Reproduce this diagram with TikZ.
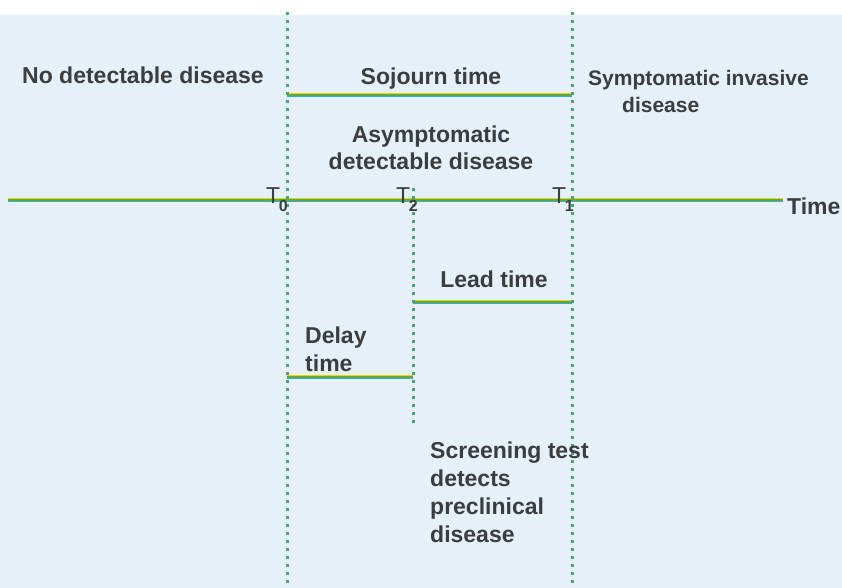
\documentclass[tikz,border=0pt]{standalone}
\usepackage{fontspec}
\setmainfont{Liberation Sans}
\usepackage{xcolor}
\usetikzlibrary{positioning}
\definecolor{bgblue}{RGB}{229,240,248}
\definecolor{inkgray}{RGB}{58,62,64}
\definecolor{tlgreen}{RGB}{96,168,58}
\definecolor{tlblue}{RGB}{58,168,220}
\definecolor{tlyellow}{RGB}{232,214,0}
\definecolor{dotgreen}{RGB}{70,165,120}
\newcommand{\tmark}[1]{T\kern-1.5pt\raisebox{-8pt}{\bfseries\fontsize{16}{16}\selectfont #1}}

\begin{document}
\begin{tikzpicture}[x=1pt, y=-1pt,
    txt/.style={font=\bfseries\fontsize{23}{28}\selectfont, text=inkgray, inner sep=0pt},
    tlabel/.style={font=\fontsize{23}{28}\selectfont, text=inkgray, inner sep=0pt, anchor=base west},
    period/.style={line width=1.7pt, draw=tlgreen,
        preaction={draw=tlblue, line width=1.6pt, transform canvas={yshift=-1.5pt}},
        postaction={draw=tlyellow, line width=1.2pt, transform canvas={yshift=1.4pt}}},
    dotline/.style={draw=dotgreen, line width=3pt, dash pattern=on 3pt off 5pt}
]
    \useasboundingbox (0,0) rectangle (842,588);
    \fill[white] (0,0) rectangle (842,588);
    \fill[bgblue] (0,15) rectangle (842,588);

    \coordinate (t0top) at (287,12);
    \coordinate (t0bot) at (287,588);
    \coordinate (t1top) at (572,12);
    \coordinate (t1bot) at (572,588);
    \coordinate (t2top) at (413,188);
    \coordinate (t2bot) at (413,425);
    \coordinate (origin) at (8,200);

    \coordinate (sj0) at (287,95);
    \coordinate (sj1) at (572,95);
    \coordinate (ld0) at (413,302);
    \coordinate (ld1) at (572,302);
    \coordinate (dl0) at (287,377);
    \coordinate (dl1) at (413,377);

    \node[txt, anchor=base west] (time) at (787,214) {Time};

    \draw[period] (origin) -- ([xshift=-4pt]origin -| time.west);
    \draw[period] (sj0) -- (sj1);
    \draw[period] (ld0) -- (ld1);
    \draw[period] (dl0) -- (dl1);

    \draw[dotline] (t0top) -- (t0bot);
    \draw[dotline] (t1top) -- (t1bot);
    \draw[dotline] (t2top) -- (t2bot);

    \node[tlabel] (T0) at (266,203) {\tmark{0}};
    \node[tlabel] (T2) at (396,203) {\tmark{2}};
    \node[tlabel] (T1) at (552,203) {\tmark{1}};

    \node[txt, anchor=base west] (nodis) at (22,84) {No detectable disease};
    \node[txt, anchor=base] (sojourn) at (431,85) {Sojourn time};
    \node[txt, font=\bfseries\fontsize{21}{27}\selectfont, anchor=base west, align=left] (sympt) at (588,113) {Symptomatic invasive\\\hspace*{34pt}disease};
    \node[txt, anchor=base, align=center] (asympt) at (431,170) {Asymptomatic\\detectable disease};
    \node[txt, anchor=base] (lead) at (494,287) {Lead time};
    \node[txt, anchor=base west, align=left] (delay) at (305,371) {Delay\\time};
    \node[txt, anchor=base west, align=left] (screen) at (430,542) {Screening test\\detects\\preclinical\\disease};
\end{tikzpicture}
\end{document}
